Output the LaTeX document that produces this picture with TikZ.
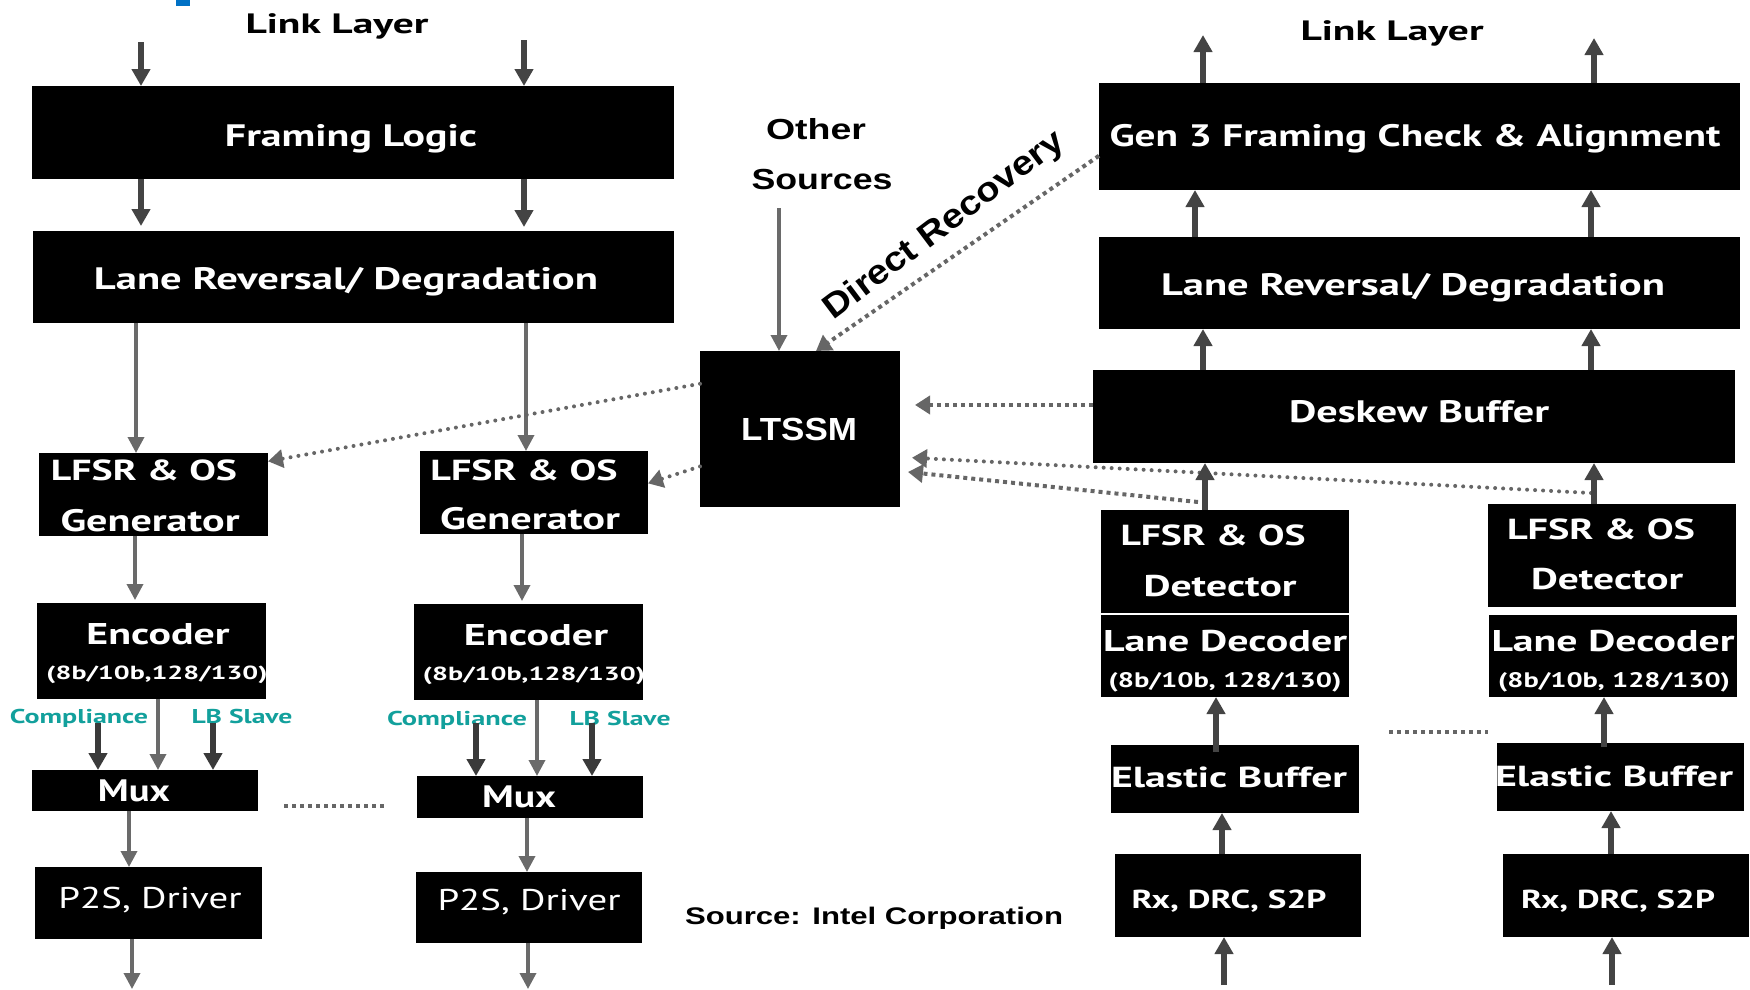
\documentclass[tikz,border=0pt]{standalone}
\usepackage{fontspec}
\usepackage{graphicx}
\setmainfont{PT Sans}
\newfontfamily\ptsans{PT Sans}
\newfontfamily\arl{Liberation Sans}
\usetikzlibrary{arrows.meta,calc}
\definecolor{dk}{HTML}{444444}
\definecolor{kk}{HTML}{3A3A3A}
\definecolor{md}{HTML}{6A6A6A}
\definecolor{dt}{HTML}{666666}
\definecolor{teal2}{HTML}{12A09C}
\definecolor{iblue}{HTML}{0071C5}
\tikzset{
 blk/.style={fill=black, draw=none, inner sep=0pt, outer sep=0pt, rectangle},
 lbl/.style={anchor=base, inner sep=0pt, outer sep=0pt, text=white, font=\ptsans\bfseries},
 arrD/.style={draw=dk, line width=5.5pt, -{Triangle[width=18pt,length=17pt]}},
 arrK/.style={draw=kk, line width=6pt, -{Triangle[width=18pt,length=17pt]}},
 arrT/.style={draw=md, line width=3.5pt, -{Triangle[width=16pt,length=16pt]}},
 dsq/.style={draw=dt, line width=4pt, dash pattern=on 4pt off 4pt, -{Triangle[width=18pt,length=15pt]}},
 drd/.style={draw=dt, line width=4pt, line cap=round, dash pattern=on 0pt off 8pt, -{Triangle[width=18pt,length=15pt]}},
 dline/.style={draw=dt, line width=4pt, dash pattern=on 4pt off 4pt}
}
\newcommand\mkbox[5]{\node[blk, minimum width={(#4)-(#2)}, minimum height={(#5)-(#3)}] (#1) at ({((#2)+(#4))/2},{((#3)+(#5))/2}) {};}
\newcommand\lab[7][]{\node[lbl,#1] (#2) at (#3,#4) {\fontsize{#6}{#6}\selectfont\resizebox{#5pt}{\height}{#7}};}
\begin{document}
\begin{tikzpicture}[x=1pt,y=-1pt]
\useasboundingbox (0,0) rectangle (1750,989);
\fill[iblue] (176,0) rectangle (190,6);
% boxes left
\mkbox{fram}{32}{86}{674}{179}
\mkbox{lrl}{33}{231}{674}{323}
\mkbox{lfA}{39}{453}{268}{536}
\mkbox{lfB}{420}{451}{648}{534}
\mkbox{encA}{37}{603}{266}{699}
\mkbox{encB}{414}{604}{643}{700}
\mkbox{muxA}{32}{770}{258}{811}
\mkbox{muxB}{417}{776}{643}{818}
\mkbox{p2sA}{35}{867}{262}{939}
\mkbox{p2sB}{416}{872}{642}{943}
% middle
\mkbox{ltssm}{700}{351}{900}{507}
% right
\mkbox{gen3}{1099}{83}{1740}{190}
\mkbox{lrr}{1099}{237}{1740}{329}
\mkbox{dsk}{1093}{370}{1735}{463}
\mkbox{detC}{1101}{510}{1349}{613}
\mkbox{decC}{1101}{615}{1349}{697}
\mkbox{detD}{1488}{504}{1736}{607}
\mkbox{decD}{1489}{615}{1737}{697}
\mkbox{ebC}{1111}{745}{1359}{813}
\mkbox{ebD}{1497}{743}{1744}{811}
\mkbox{rxC}{1115}{854}{1361}{937}
\mkbox{rxD}{1503}{854}{1749}{937}
% labels left
\lab[text=black]{tLLL}{337}{33}{183}{28}{Link Layer}
\lab{tFram}{351}{146}{252}{31}{Framing Logic}
\lab{tLRL}{346}{289}{504}{31}{Lane Reversal/ Degradation}
\lab{tLfA1}{144}{480}{186}{29}{LFSR \& OS}
\lab{tLfA2}{150}{531}{179}{31}{Generator}
\lab{tLfB1}{524}{480}{187}{29}{LFSR \& OS}
\lab{tLfB2}{530}{529}{180}{31}{Generator}
\lab{tEncA1}{158}{644}{143}{30}{Encoder}
\lab{tEncA2}{157}{679}{221}{19}{(8b/10b,128/130)}
\lab{tEncB1}{536}{645}{144}{30}{Encoder}
\lab{tEncB2}{534}{680}{222}{19}{(8b/10b,128/130)}
\lab[text=teal2]{tCA}{79}{723}{138}{20}{Compliance}
\lab[text=teal2]{tSA}{242}{723}{101}{20}{LB Slave}
\lab[text=teal2]{tCB}{457}{725}{140}{20}{Compliance}
\lab[text=teal2]{tSB}{620}{725}{101}{20}{LB Slave}
\lab{tMuxA}{134}{801}{72}{31}{Mux}
\lab{tMuxB}{519}{807}{74}{31}{Mux}
\lab[font=\ptsans]{tP2SA}{150}{908}{183}{30}{P2S, Driver}
\lab[font=\ptsans]{tP2SB}{529}{910}{183}{30}{P2S, Driver}
% labels middle
\lab[text=black,font=\arl\bfseries]{tOth}{816}{139}{100}{29}{Other}
\lab[text=black,font=\arl\bfseries]{tSrcs}{822}{189}{141}{29}{Sources}
\lab[font=\arl\bfseries]{tLT}{799}{440}{116}{32}{LTSSM}
\lab[text=black,font=\arl\bfseries,rotate=37]{tDR}{950}{233}{292}{34}{Direct Recovery}
\lab[text=black,font=\arl\bfseries]{tSrc}{874}{924}{378}{24}{Source: Intel Corporation}
% labels right
\lab[text=black]{tLLR}{1392}{40}{183}{28}{Link Layer}
\lab{tGen3}{1415}{146}{611}{31}{Gen 3 Framing Check \& Alignment}
\lab{tLRR}{1413}{295}{504}{31}{Lane Reversal/ Degradation}
\lab{tDsk}{1419}{422}{260}{31}{Deskew Buffer}
\lab{tDetC1}{1213}{545}{185}{29}{LFSR \& OS}
\lab{tDetC2}{1220}{596}{153}{30}{Detector}
\lab{tDecC1}{1225}{651}{244}{30}{Lane Decoder}
\lab{tDecC2}{1225}{687}{233}{21}{(8b/10b, 128/130)}
\lab{tDetD1}{1601}{539}{188}{29}{LFSR \& OS}
\lab{tDetD2}{1607}{589}{152}{30}{Detector}
\lab{tDecD1}{1613}{651}{243}{30}{Lane Decoder}
\lab{tDecD2}{1614}{687}{232}{21}{(8b/10b, 128/130)}
\lab{tEbC}{1229}{787}{236}{29}{Elastic Buffer}
\lab{tEbD}{1614}{786}{238}{29}{Elastic Buffer}
\lab{tRxC}{1229}{908}{195}{26}{Rx, DRC, S2P}
\lab{tRxD}{1618}{908}{194}{26}{Rx, DRC, S2P}
% connectors left
\coordinate (inA) at (141,42);
\coordinate (inB) at (524,40);
\draw[arrD] (inA) -- (fram.north -| inA);
\draw[arrD] (inB) -- (fram.north -| inB);
\draw[arrD, shorten >=5pt] (fram.south -| 141,0) -- (lrl.north -| 141,0);
\draw[arrD, shorten >=4pt] (fram.south -| 524,0) -- (lrl.north -| 524,0);
\draw[arrT] (lrl.south -| 136,0) -- (lfA.north -| 136,0);
\draw[arrT] (lrl.south -| 526,0) -- (lfB.north -| 526,0);
\draw[arrT, shorten >=3pt] (lfA.south -| 135,0) -- (encA.north -| 135,0);
\draw[arrT, shorten >=3pt] (lfB.south -| 522,0) -- (encB.north -| 522,0);
\coordinate (cA) at (98,723);
\coordinate (sA) at (213,723);
\coordinate (cB) at (476,723);
\coordinate (sB) at (592,723);
\draw[arrK] (cA) -- (muxA.north -| cA);
\draw[arrK] (sA) -- (muxA.north -| sA);
\draw[arrT] (encA.south -| 158,0) -- (muxA.north -| 158,0);
\draw[arrK] (cB) -- (muxB.north -| cB);
\draw[arrK] (sB) -- (muxB.north -| sB);
\draw[arrT] (encB.south -| 537,0) -- (muxB.north -| 537,0);
\draw[arrT] (muxA.south -| 129,0) -- (p2sA.north -| 129,0);
\draw[arrT] (muxB.south -| 527,0) -- (p2sB.north -| 527,0);
\coordinate (oA) at (132,989);
\coordinate (oB) at (528,989);
\draw[arrT] (p2sA.south -| oA) -- (oA);
\draw[arrT] (p2sB.south -| oB) -- (oB);
\coordinate (dl1) at (284,806);
\coordinate (dl2) at (384,806);
\draw[dline] (dl1) -- (dl2);
% connectors middle
\coordinate (os) at (779,208);
\draw[arrT] (os) -- (ltssm.north -| os);
\coordinate (drS) at ($(gen3.south west)!0.32!(gen3.north west)$);
\draw[dsq] (drS) -- ($(ltssm.north west)!0.58!(ltssm.north east)$);
\coordinate (ltA) at ($(ltssm.north west)!0.21!(ltssm.south west)$);
\draw[drd] (ltA) -- ($(lfA.north east)!0.1!(lfA.south east)$);
\coordinate (ltB) at ($(ltssm.north west)!0.74!(ltssm.south west)$);
\draw[drd] (ltB) -- ($(lfB.north east)!0.39!(lfB.south east)$);
\coordinate (dsS) at ($(dsk.north west)!0.376!(dsk.south west)$);
\draw[dsq, shorten >=15pt] (dsS) -- (ltssm.east |- dsS);
\coordinate (rdS) at (1591,493);
\draw[drd, shorten >=12pt] (rdS) -- ($(ltssm.north east)!0.68!(ltssm.south east)$);
\coordinate (sqS) at (1198,502);
\draw[dsq, shorten >=8pt] (sqS) -- ($(ltssm.north east)!0.77!(ltssm.south east)$);
% connectors right
\coordinate (oR1) at (1203,35);
\coordinate (oR2) at (1594,38);
\draw[arrD] (gen3.north -| oR1) -- (oR1);
\draw[arrD] (gen3.north -| oR2) -- (oR2);
\draw[arrD] (lrr.north -| 1195,0) -- (gen3.south -| 1195,0);
\draw[arrD] (lrr.north -| 1591,0) -- (gen3.south -| 1591,0);
\draw[arrD] (dsk.north -| 1203,0) -- (lrr.south -| 1203,0);
\draw[arrD] (dsk.north -| 1591,0) -- (lrr.south -| 1591,0);
\draw[arrD] (detC.north -| 1205,0) -- (dsk.south -| 1205,0);
\draw[arrD] (detD.north -| 1594,0) -- (dsk.south -| 1594,0);
\draw[arrD] ([yshift=-7pt]ebC.north -| 1216,0) -- (decC.south -| 1216,0);
\draw[arrD] ([yshift=-4pt]ebD.north -| 1604,0) -- (decD.south -| 1604,0);
\draw[arrD] (rxC.north -| 1222,0) -- (ebC.south -| 1222,0);
\draw[arrD] (rxD.north -| 1611,0) -- (ebD.south -| 1611,0);
\coordinate (iC) at (1224,985);
\coordinate (iD) at (1612,985);
\draw[arrD] (iC) -- (rxC.south -| iC);
\draw[arrD] (iD) -- (rxD.south -| iD);
\coordinate (dr1) at (1389,732);
\coordinate (dr2) at (1488,732);
\draw[dline] (dr1) -- (dr2);
\end{tikzpicture}
\end{document}
